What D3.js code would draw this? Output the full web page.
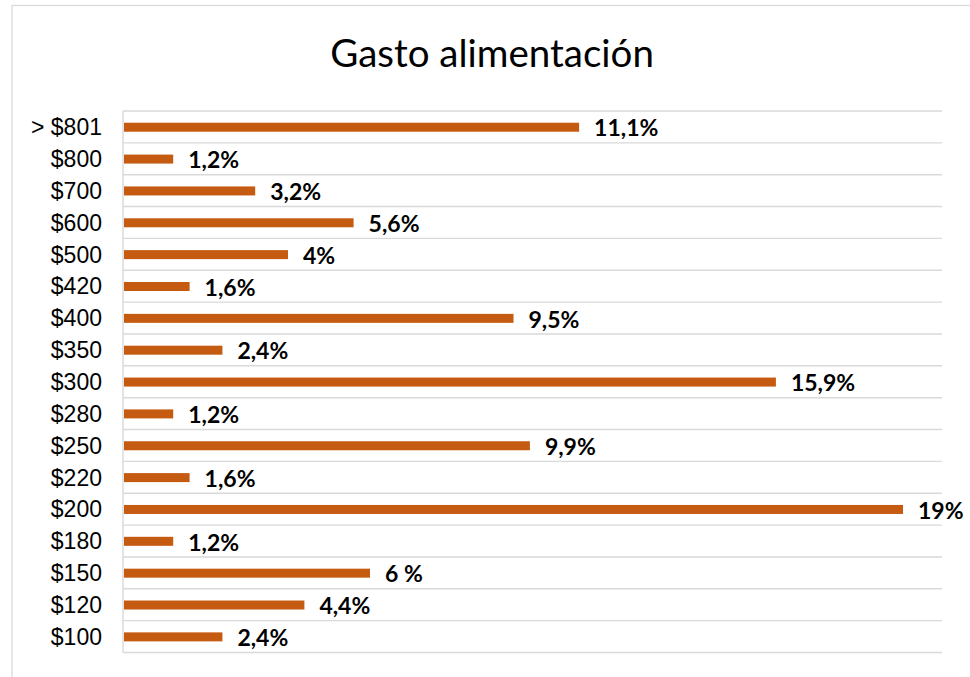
<!DOCTYPE html>
<html><head><meta charset="utf-8">
<script src="https://cdn.jsdelivr.net/npm/d3@7"></script>
<style>body{margin:0;background:#fff}svg{display:block}</style>
</head><body><svg id="c" width="970" height="677"></svg>
<script>
const categories = ["> $801","$800","$700","$600","$500","$420","$400","$350","$300","$280","$250","$220","$200","$180","$150","$120","$100"];
const values = [11.1,1.2,3.2,5.6,4,1.6,9.5,2.4,15.9,1.2,9.9,1.6,19,1.2,6,4.4,2.4];
const valueLabels = ["11,1%","1,2%","3,2%","5,6%","4%","1,6%","9,5%","2,4%","15,9%","1,2%","9,9%","1,6%","19%","1,2%","6 %","4,4%","2,4%"];
const title = "Gasto alimentación";

const svg = d3.select("#c");
const W = 970, H = 677;
const m = {left:123, right:942, top:111, bottom:652.5};

// chart frame
svg.append("rect").attr("x",12).attr("y",5.5).attr("width",W+20).attr("height",H+20)
  .attr("fill","#fff").attr("stroke","#d9d9d9").attr("stroke-width",1.3);

svg.append("text").attr("x",492).attr("y",66.5).attr("text-anchor","middle")
  .attr("font-family","Lato, 'Open Sans', sans-serif").attr("font-size",38.5).attr("fill","#000")
  .text(title);

const x = d3.scaleLinear().domain([0,20]).range([m.left, m.right+1]);
const yb = d3.scaleBand().domain(categories).range([m.top, m.bottom]);

// gridlines at band boundaries
const bounds = categories.map(c => yb(c)).concat([m.bottom]);
svg.append("g").selectAll("line").data(bounds).join("line")
  .attr("x1",m.left).attr("x2",m.right).attr("y1",d=>d).attr("y2",d=>d)
  .attr("stroke","#d9d9d9").attr("stroke-width",1.4);
svg.append("line").attr("x1",m.left).attr("x2",m.left).attr("y1",m.top).attr("y2",m.bottom)
  .attr("stroke","#d9d9d9").attr("stroke-width",1.4);

// y axis labels
const yAxis = d3.axisLeft(yb).tickSize(0).tickPadding(21);
const ga = svg.append("g").attr("transform",`translate(${m.left},0)`).call(yAxis);
ga.select(".domain").remove();
ga.selectAll("text").attr("font-family","'Liberation Sans', Arial, sans-serif").attr("font-size",23).attr("fill","#000")
  .attr("dy","0.36em");

// bars
const bw = 9;
svg.append("g").selectAll("rect").data(values).join("rect")
  .attr("x",x(0)+1).attr("y",(d,i)=>yb(categories[i])+yb.bandwidth()/2-bw/2+0.3)
  .attr("width",d=>x(d)-x(0)).attr("height",bw).attr("fill","#C55A11");

// value labels
svg.append("g").selectAll("text").data(values).join("text")
  .attr("x",d=>x(d)+16).attr("y",(d,i)=>yb(categories[i])+yb.bandwidth()/2+9.5)
  .attr("font-family","Lato, 'Open Sans', sans-serif").attr("font-weight","bold").attr("font-size",23).attr("fill","#000")
  .text((d,i)=>valueLabels[i]);
</script></body></html>
